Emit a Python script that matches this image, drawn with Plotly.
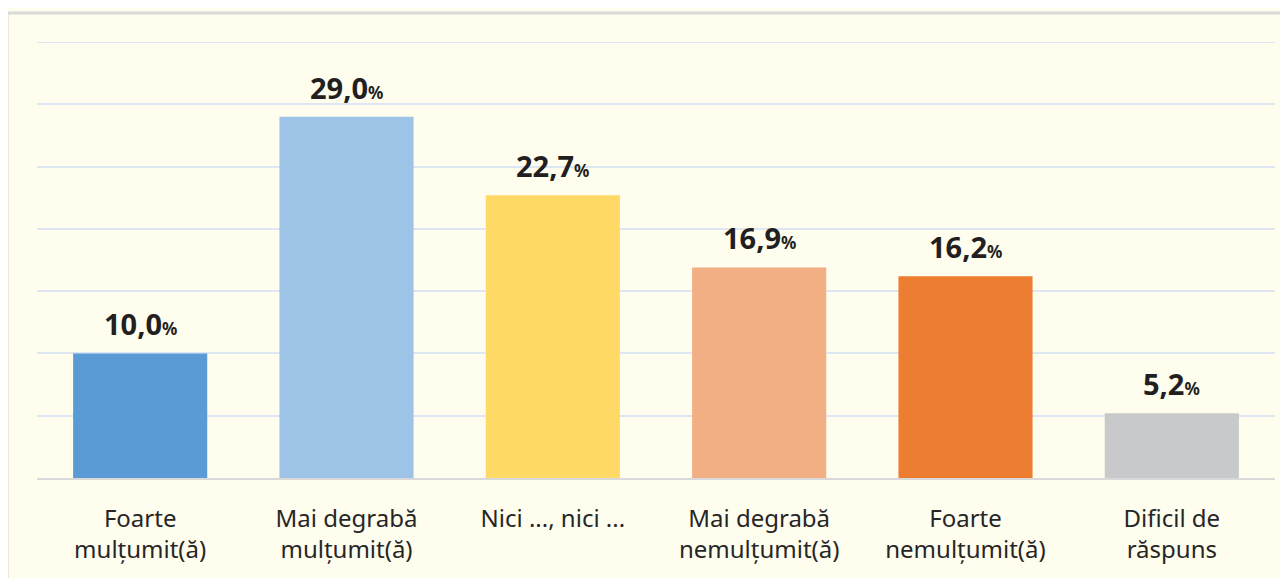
import plotly.graph_objects as go

categories = ["Foarte<br>mulțumit(ă)", "Mai degrabă<br>mulțumit(ă)", "Nici ..., nici ...",
              "Mai degrabă<br>nemulțumit(ă)", "Foarte<br>nemulțumit(ă)", "Dificil de<br>răspuns"]
values = [10.0, 29.0, 22.7, 16.9, 16.2, 5.2]
labels = ["10,0", "29,0", "22,7", "16,9", "16,2", "5,2"]
colors = ["#5B9BD5", "#9DC3E6", "#FFD966", "#F2AF84", "#ED7D31", "#C8C9CA"]
y_max = 35

BG = "#FFFDEE"
FONT = "Noto Sans"
GRID = "#DDE6F2"

fig = go.Figure(go.Bar(x=categories, y=values, marker=dict(color=colors, line=dict(width=0)),
                       width=0.65, hoverinfo="skip"))

for c, v, l in zip(categories, values, labels):
    fig.add_annotation(x=c, y=v, xref="x", yref="y", yanchor="bottom", yshift=8, showarrow=False,
                       text=f"<b>{l}</b><span style='font-size:17px'><b>%</b></span>",
                       font=dict(family=FONT, size=29, color="#231F20"))

# outer frame
fig.add_shape(type="rect", xref="paper", yref="paper", x0=-0.0242, x1=1.2, y0=-0.5, y1=1.0665,
              line=dict(color="#D9D9D9", width=3), layer="below")
# top gridline at range end
fig.add_shape(type="line", xref="paper", yref="y", x0=0, x1=1, y0=y_max, y1=y_max,
              line=dict(color=GRID, width=2), layer="below")

fig.update_layout(
    width=1288, height=578,
    margin=dict(l=29, r=21, t=34, b=108),
    paper_bgcolor=BG, plot_bgcolor=BG,
    showlegend=False,
    bargap=0.35,
    xaxis=dict(showgrid=False, showline=True, linecolor="#D9D9D9", linewidth=2,
               ticks="outside", ticklen=18, tickcolor="rgba(0,0,0,0)",
               tickfont=dict(family=FONT, size=24, color="#262626"), fixedrange=True),
    yaxis=dict(range=[0, y_max], dtick=5, showgrid=True, gridcolor=GRID, gridwidth=2,
               showticklabels=False, zeroline=False, fixedrange=True),
)

fig.write_html("out.html")
